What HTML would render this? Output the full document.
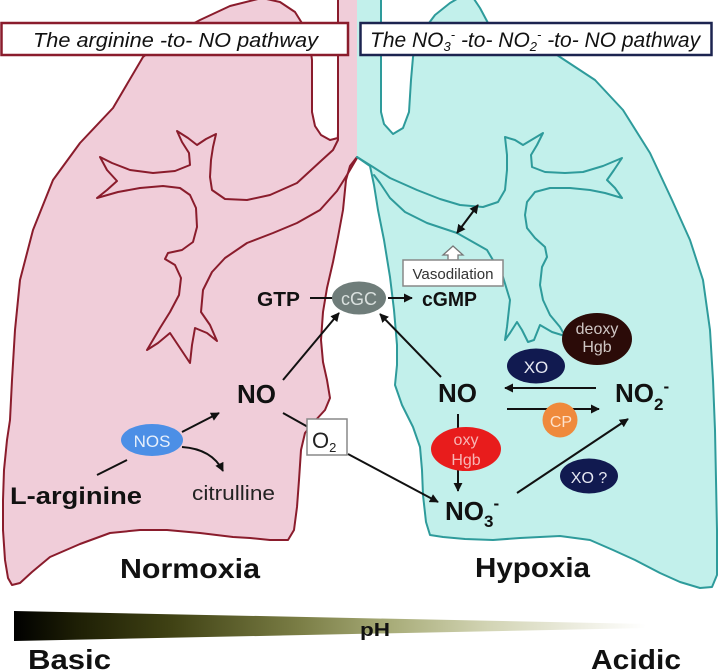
<!DOCTYPE html>
<html><head><meta charset="utf-8">
<style>
html,body{margin:0;padding:0;background:#fff}
svg{display:block}
text{font-family:"Liberation Sans",Arial,sans-serif}
</style></head>
<body>
<svg width="720" height="671" viewBox="0 0 720 671" xmlns="http://www.w3.org/2000/svg">
<defs>
  <marker id="ah" viewBox="0 0 10 10" refX="9" refY="5" markerWidth="9" markerHeight="9" markerUnits="userSpaceOnUse" orient="auto-start-reverse">
    <path d="M0,0 L10,5 L0,10 z" fill="#111"/>
  </marker>
  <linearGradient id="ph" x1="14" y1="0" x2="646" y2="0" gradientUnits="userSpaceOnUse">
    <stop offset="0" stop-color="#000"/>
    <stop offset="0.1" stop-color="#1e1f05"/>
    <stop offset="0.25" stop-color="#404214"/>
    <stop offset="0.45" stop-color="#7a7d45"/>
    <stop offset="0.6" stop-color="#a9ad7a"/>
    <stop offset="0.75" stop-color="#d2d4b4"/>
    <stop offset="0.9" stop-color="#eeeee2"/>
    <stop offset="1" stop-color="#fff"/>
  </linearGradient>
</defs>
<rect width="720" height="671" fill="#fff"/>

<!-- Left lung fill -->
<polygon fill="#f0cdd9" points="262,-2 280,2 295,12 305,28 310,45 312,60 312,112 315,126 321,135 330,140 336,137 338,128 338,-2 357,-2 357,157 350,166 346,180 343,210 338,237 333,262 327,288 323,312 321,340 323,362 327,380 330,398 325,410 314,422 305,433 301,450 299,480 297,507 294,530 288,540 270,540 250,538 233,537 200,533 167,530 140,530 110,533 80,544 50,557 32,572 20,583 12,585 8,578 5,560 3,530 3,500 4,470 7,440 10,420 12,380 15,330 20,280 33,230 53,180 80,143 113,108 143,57 170,36 200,20 230,6"/>
<!-- Right lung fill -->
<polygon fill="#c2f0eb" points="357,-2 381,-2 381,112 384,124 393,134 403,128 409,112 411,80 413,57 420,35 435,15 450,3 462,-4 472,-4 480,8 488,23 520,38 545,47 560,57 595,80 623,110 650,153 672,200 690,240 703,280 710,330 713,380 715,430 716,480 717,530 717,575 712,587 700,588 680,582 660,573 635,560 613,550 590,540 560,536 520,538 493,540 465,539 443,537 430,535 426,522 423,495 422,470 420,447 413,427 402,405 395,385 397,365 397,345 394,310 390,277 384,240 378,210 374,185 370,166 357,157"/>

<!-- Left outlines -->
<g fill="none" stroke="#8a1c2c" stroke-width="2" stroke-linejoin="round" stroke-linecap="round">
<polyline points="357,157 350,166 346,180 343,210 338,237 333,262 327,288 323,312 321,340 323,362 327,380 330,398 325,410 314,422 305,433 301,450 299,480 297,507 294,530 288,540 270,540 250,538 233,537 200,533 167,530 140,530 110,533 80,544 50,557 32,572 20,583 12,585 8,578 5,560 3,530 3,500 4,470 7,440 10,420 12,380 15,330 20,280 33,230 53,180 80,143 113,108 143,57 170,36 200,20 230,6 262,-2 280,2 295,12 305,28 310,45 312,60 312,112 315,126 321,135 330,140 338,138"/>
<polyline points="338,-2 338,140 333,150 322,160 297,183 270,195 247,200 225,199 212,190 210,177 211,160 213,147 216,134 206,139 197,145 188,138 177,131 182,142 189,153 190,165 175,171 153,173 130,170 112,163 100,157 107,170 117,181 107,190 97,198 118,192 140,188 163,186 180,188 190,195 196,208 197,227 193,242 182,250 168,253 165,259 175,265 181,278 179,295 170,312 160,328 147,350 158,343 170,333 180,348 190,363 192,345 195,328 207,333 217,341 210,325 201,312 203,290 212,272 225,258 247,243 273,233 297,223 320,210 337,191 347,175 357,158"/>
</g>
<!-- Right outlines -->
<g fill="none" stroke="#2e9b9b" stroke-width="2" stroke-linejoin="round" stroke-linecap="round">
<polyline points="381,-2 381,112 384,124 393,134 403,128 409,112 411,80 413,57 420,35 435,15 450,3 462,-4 472,-4 480,8 488,23 520,38 545,47 560,57 595,80 623,110 650,153 672,200 690,240 703,280 710,330 713,380 715,430 716,480 717,530 717,575 712,587 700,588 680,582 660,573 635,560 613,550 590,540 560,536 520,538 493,540 465,539 443,537 430,535 426,522 423,495 422,470 420,447 413,427 402,405 395,385 397,365 397,345 394,310 390,277 384,240 378,210 374,185 370,166 357,157"/>
<polyline points="357,157 373,167 390,178 417,190 440,199 460,205 483,207 498,202 505,190 507,170 507,155 505,137 515,140 523,145 533,139 543,133 537,145 531,155 532,167 545,172 565,173 583,172 603,166 622,158 614,170 607,180 615,188 622,198 605,193 590,190 570,188 550,188 535,192 527,202 525,215 527,228 535,238 545,247 547,257 542,267 540,285 543,300 550,315 560,327 565,336 552,332 540,325 534,340 528,342 522,330 517,322 510,333 505,340 507,327 510,300 503,277 487,250 457,233 427,223 405,212 390,198 380,183 374,175"/>
</g>

<!-- Header boxes -->
<rect x="1.5" y="23" width="346.5" height="32" fill="#fff" stroke="#8a1c2c" stroke-width="2.5"/>
<text x="33" y="47" font-style="italic" font-size="20" fill="#111" textLength="285" lengthAdjust="spacingAndGlyphs">The arginine -to- NO pathway</text>
<rect x="360.5" y="23" width="351" height="32" fill="#fff" stroke="#1c2450" stroke-width="2.5"/>
<text x="370" y="47" font-style="italic" font-size="21" fill="#111">The NO<tspan font-size="13" dy="4">3</tspan><tspan font-size="13" dy="-12">-</tspan><tspan dy="8"> -to- NO</tspan><tspan font-size="13" dy="4">2</tspan><tspan font-size="13" dy="-12">-</tspan><tspan dy="8"> -to- NO pathway</tspan></text>

<!-- Connectors -->
<g stroke="#111" stroke-width="2" fill="none">
  <line x1="310" y1="298" x2="334" y2="298"/>
  <line x1="388" y1="298" x2="412" y2="298" marker-end="url(#ah)"/>
  <line x1="283" y1="380" x2="339" y2="313" marker-end="url(#ah)"/>
  <line x1="441" y1="377" x2="380" y2="314" marker-end="url(#ah)"/>
  <line x1="97" y1="475" x2="127" y2="460"/>
  <line x1="182" y1="432" x2="219" y2="413" marker-end="url(#ah)"/>
  <path d="M182,447 Q212,449 223,471" marker-end="url(#ah)"/>
  <line x1="283" y1="413" x2="308" y2="427"/>
  <line x1="348" y1="454" x2="438" y2="502" marker-end="url(#ah)"/>
  <line x1="458" y1="414" x2="458" y2="491" marker-end="url(#ah)"/>
  <line x1="596" y1="388" x2="505" y2="388" marker-end="url(#ah)"/>
  <line x1="507" y1="409" x2="599" y2="409" marker-end="url(#ah)"/>
  <line x1="517" y1="493" x2="628" y2="419" marker-end="url(#ah)"/>
  <line x1="478" y1="205" x2="457" y2="233" marker-start="url(#ah)" marker-end="url(#ah)"/>
</g>

<!-- Vasodilation -->
<path d="M453,246 L463,255 L458,255 L458,260 L448,260 L448,255 L443,255 Z" fill="#fff" stroke="#777" stroke-width="1.3"/>
<rect x="403" y="260" width="100" height="26" fill="#fff" stroke="#888" stroke-width="1.5"/>
<text x="453" y="279" font-size="15" fill="#333" text-anchor="middle" textLength="81" lengthAdjust="spacingAndGlyphs">Vasodilation</text>

<!-- O2 box -->
<rect x="307" y="419" width="40" height="36" fill="#fff" stroke="#888" stroke-width="1.5"/>
<text x="312" y="448" font-size="22" fill="#222">O<tspan font-size="13" dy="4">2</tspan></text>

<!-- Ellipses -->
<ellipse cx="359" cy="298" rx="27" ry="16.5" fill="#6f7d7a"/>
<text x="359" y="305" font-size="18" fill="#d9e0de" text-anchor="middle" textLength="36" lengthAdjust="spacingAndGlyphs">cGC</text>

<ellipse cx="152" cy="440" rx="31" ry="16" fill="#4c8fe6"/>
<text x="152" y="447" font-size="17" fill="#e8f0fb" text-anchor="middle">NOS</text>

<ellipse cx="597" cy="339" rx="35" ry="26" fill="#2b0b08"/>
<text x="597" y="334" font-size="16" fill="#cfc6c4" text-anchor="middle">deoxy</text>
<text x="597" y="352" font-size="16" fill="#cfc6c4" text-anchor="middle">Hgb</text>

<ellipse cx="536" cy="366" rx="29" ry="17.5" fill="#111a50"/>
<text x="536" y="373" font-size="17" fill="#e6e8f2" text-anchor="middle">XO</text>

<circle cx="560" cy="420" r="17.5" fill="#ef8a3c"/>
<text x="561" y="427" font-size="16" fill="#fde2cc" text-anchor="middle">CP</text>

<ellipse cx="466" cy="449" rx="35" ry="22" fill="#e81c1c"/>
<text x="466" y="445" font-size="16" fill="#f7b5b5" text-anchor="middle">oxy</text>
<text x="466" y="465" font-size="16" fill="#f7b5b5" text-anchor="middle">Hgb</text>

<ellipse cx="589" cy="476" rx="29" ry="17.5" fill="#111a50"/>
<text x="589" y="483" font-size="16" fill="#e6e8f2" text-anchor="middle">XO ?</text>

<!-- Labels -->
<g fill="#111" font-weight="bold">
  <text x="257" y="306" font-size="20" textLength="43" lengthAdjust="spacingAndGlyphs">GTP</text>
  <text x="422" y="306" font-size="20" textLength="55" lengthAdjust="spacingAndGlyphs">cGMP</text>
  <text x="237" y="403" font-size="26" textLength="39" lengthAdjust="spacingAndGlyphs">NO</text>
  <text x="438" y="402" font-size="26" textLength="39" lengthAdjust="spacingAndGlyphs">NO</text>
  <text x="615" y="402" font-size="26">NO<tspan font-size="17" dy="8">2</tspan><tspan font-size="17" dy="-18">-</tspan></text>
  <text x="445" y="520" font-size="26">NO<tspan font-size="17" dy="7">3</tspan><tspan font-size="17" dy="-18">-</tspan></text>
  <text x="10" y="504" font-size="24" textLength="132" lengthAdjust="spacingAndGlyphs">L-arginine</text>
  <text x="120" y="578" font-size="28" textLength="140" lengthAdjust="spacingAndGlyphs">Normoxia</text>
  <text x="475" y="577" font-size="28" textLength="115" lengthAdjust="spacingAndGlyphs">Hypoxia</text>
</g>
<text x="192" y="500" font-size="20" fill="#222" textLength="83" lengthAdjust="spacingAndGlyphs">citrulline</text>

<!-- pH bar -->
<polygon points="14,611 646,624 646,628 14,641" fill="url(#ph)"/>
<text x="360" y="636" font-size="18" font-weight="bold" fill="#111" textLength="30" lengthAdjust="spacingAndGlyphs">pH</text>
<text x="28" y="669" font-size="28" font-weight="bold" fill="#111" textLength="83" lengthAdjust="spacingAndGlyphs">Basic</text>
<text x="591" y="669" font-size="28" font-weight="bold" fill="#111" textLength="90" lengthAdjust="spacingAndGlyphs">Acidic</text>
</svg>
</body></html>
